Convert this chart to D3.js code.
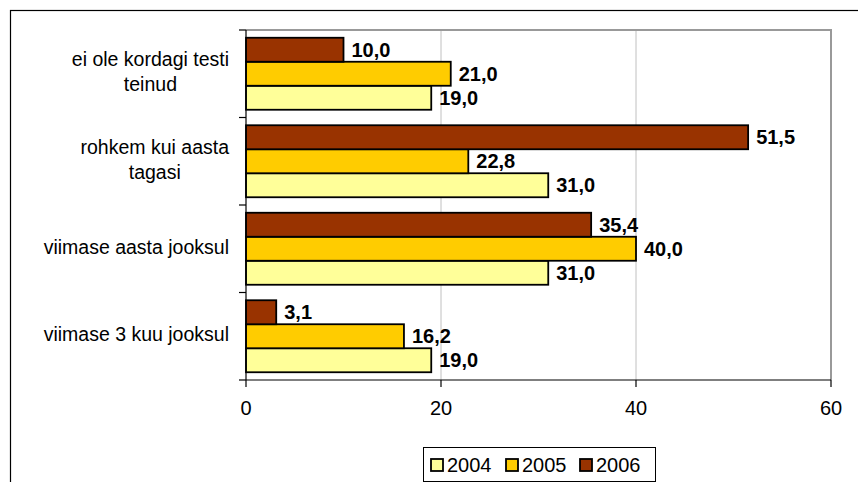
<!DOCTYPE html>
<html>
<head>
<meta charset="utf-8">
<script src="https://cdn.jsdelivr.net/npm/d3@7"></script>
<style>
  html, body { margin: 0; padding: 0; background: #fff; }
  svg { display: block; }
  text { font-family: "Liberation Sans", Arial, sans-serif; }
</style>
</head>
<body>
<svg id="chart" width="858" height="482"></svg>
<script>
// ---- data ----
const categories = [
  ["ei ole kordagi testi", "teinud"],
  ["rohkem kui aasta", "tagasi"],
  ["viimase aasta jooksul"],
  ["viimase 3 kuu jooksul"]
];
const seriesNames = ["2004", "2005", "2006"];
const values2004 = [19.0, 31.0, 31.0, 19.0];
const values2005 = [21.0, 22.8, 40.0, 16.2];
const values2006 = [10.0, 51.5, 35.4, 3.1];
const xTicks = [0, 20, 40, 60];
const seriesColors = ["#FFFF99", "#FFCC00", "#993300"];

const seriesValues = [values2004, values2005, values2006];

// ---- layout ----
const svg = d3.select("#chart");
const plot = { left: 246, right: 831, top: 30, bottom: 380 };

// outer chart frame (cut off at right and bottom)
svg.append("rect")
  .attr("x", 10.5).attr("y", 10.5)
  .attr("width", 1000).attr("height", 1000)
  .attr("fill", "none").attr("stroke", "#000").attr("stroke-width", 1.2);

const x = d3.scaleLinear().domain([0, 60]).range([plot.left, plot.right]);
const catKeys = categories.map((c, i) => i);
const y = d3.scaleBand().domain(catKeys).range([plot.top, plot.bottom]).paddingInner(0).paddingOuter(0);
const yInner = d3.scaleBand().domain(["2006", "2005", "2004"]).range([0, y.bandwidth()])
  .paddingInner(0).paddingOuter(0.323);

// gridlines
svg.append("g").selectAll("line").data(xTicks.filter(t => t > 0 && t < 60)).join("line")
  .attr("x1", d => x(d)).attr("x2", d => x(d))
  .attr("y1", plot.top).attr("y2", plot.bottom)
  .attr("stroke", "#c0c0c0").attr("stroke-width", 1);

// plot border top & right (gray)
svg.append("path")
  .attr("d", `M${plot.left},${plot.top} H${plot.right} V${plot.bottom}`)
  .attr("fill", "none").attr("stroke", "#999").attr("stroke-width", 2);

// bars
const barData = [];
categories.forEach((c, ci) => {
  seriesNames.forEach((s, si) => {
    barData.push({ ci, s, si, v: seriesValues[si][ci] });
  });
});

svg.append("g").selectAll("rect").data(barData).join("rect")
  .attr("x", x(0))
  .attr("y", d => y(d.ci) + yInner(d.s))
  .attr("width", d => x(d.v) - x(0))
  .attr("height", yInner.bandwidth())
  .attr("fill", d => seriesColors[d.si])
  .attr("stroke", "#000").attr("stroke-width", 1.8);

// value labels
svg.append("g").selectAll("text").data(barData).join("text")
  .attr("x", d => x(d.v) + 8)
  .attr("y", d => y(d.ci) + yInner(d.s) + yInner.bandwidth() / 2)
  .attr("dy", "0.36em")
  .attr("font-size", 20).attr("font-weight", "bold").attr("fill", "#000")
  .text(d => d.v.toFixed(1).replace(".", ","));

// left axis
const yAxisG = svg.append("g");
yAxisG.append("line")
  .attr("x1", plot.left).attr("x2", plot.left)
  .attr("y1", plot.top).attr("y2", plot.bottom)
  .attr("stroke", "#000").attr("stroke-width", 1.2);
const boundaries = catKeys.map(k => y(k)).concat([plot.bottom]);
yAxisG.selectAll("line.tick").data(boundaries).join("line").attr("class", "tick")
  .attr("x1", plot.left - 7).attr("x2", plot.left)
  .attr("y1", d => d).attr("y2", d => d)
  .attr("stroke", "#000").attr("stroke-width", 1.2);

// category labels
const labelRight = 229;
const lineH = 25;
categories.forEach((lines, ci) => {
  const cy = y(ci) + y.bandwidth() / 2;
  const g = svg.append("g");
  const texts = g.selectAll("text").data(lines).join("text")
    .attr("font-size", 19.5).attr("fill", "#000")
    .attr("y", (d, i) => cy + (i - (lines.length - 1) / 2) * lineH)
    .attr("dy", "0.25em")
    .text(d => d);
  let maxW = 0;
  texts.each(function () { maxW = Math.max(maxW, this.getComputedTextLength()); });
  texts.attr("text-anchor", "middle").attr("x", labelRight - maxW / 2);
});

// bottom axis
const xAxisG = svg.append("g");
xAxisG.append("line")
  .attr("x1", plot.left).attr("x2", plot.right)
  .attr("y1", plot.bottom).attr("y2", plot.bottom)
  .attr("stroke", "#000").attr("stroke-width", 1.2);
xAxisG.selectAll("line.tick").data(xTicks).join("line").attr("class", "tick")
  .attr("x1", d => x(d)).attr("x2", d => x(d))
  .attr("y1", plot.bottom).attr("y2", plot.bottom + 7)
  .attr("stroke", "#000").attr("stroke-width", 1.2);
xAxisG.selectAll("text").data(xTicks).join("text")
  .attr("x", d => x(d)).attr("y", 415)
  .attr("text-anchor", "middle").attr("font-size", 20).attr("fill", "#000")
  .text(d => d);

// legend
const legend = svg.append("g");
legend.append("rect")
  .attr("x", 423.5).attr("y", 447.5).attr("width", 232).attr("height", 34)
  .attr("fill", "#fff").attr("stroke", "#000").attr("stroke-width", 1);
const legendX = [431, 506, 580];
const items = legend.selectAll("g.item").data(seriesNames).join("g").attr("class", "item")
  .attr("transform", (d, i) => `translate(${legendX[i]},0)`);
items.append("rect")
  .attr("x", 0).attr("y", 459).attr("width", 12).attr("height", 12)
  .attr("fill", (d, i) => seriesColors[i]).attr("stroke", "#000").attr("stroke-width", 1.8);
items.append("text")
  .attr("x", 16).attr("y", 472)
  .attr("font-size", 20).attr("fill", "#000")
  .text(d => d);
</script>
</body>
</html>
